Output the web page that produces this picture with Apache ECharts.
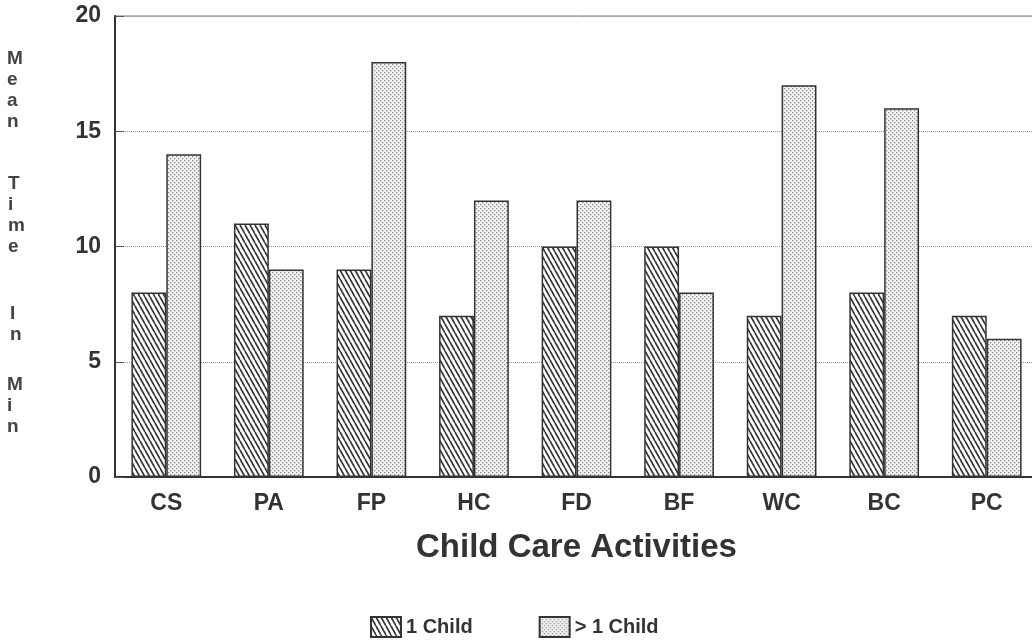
<!DOCTYPE html>
<html>
<head>
<meta charset="utf-8">
<script src="https://cdn.jsdelivr.net/npm/echarts@6/dist/echarts.min.js"></script>
<style>
  html, body { margin: 0; padding: 0; background: #fff; overflow: hidden; }
  /* plot runs slightly past the right edge of the photo, as in the scan */
  #main { width: 1044px; height: 643px; }
</style>
</head>
<body>
<div id="main"></div>
<script type="text/javascript">
// data
var categories = ['CS', 'PA', 'FP', 'HC', 'FD', 'BF', 'WC', 'BC', 'PC'];
var oneChild = [8, 11, 9, 7, 10, 10, 7, 8, 7];
var moreChild = [14, 9, 18, 12, 12, 8, 17, 16, 6];
var yTicks = [0, 5, 10, 15, 20];

var FONT = '"Liberation Sans", Arial, sans-serif';
var INK = '#333';

// hatch pattern: steep "\\\" lines
function hatchCanvas() {
    var c = document.createElement('canvas');
    var w = 5, h = 9;
    c.width = w; c.height = h;
    var ctx = c.getContext('2d');
    ctx.fillStyle = '#fff';
    ctx.fillRect(0, 0, w, h);
    ctx.strokeStyle = '#333';
    ctx.lineWidth = 1.6;
    for (var k = -1; k <= 1; k++) {
        ctx.beginPath();
        ctx.moveTo(k * w, 0);
        ctx.lineTo(k * w + w, h);
        ctx.stroke();
    }
    return c;
}

// light dotted pattern
function dotCanvas() {
    var c = document.createElement('canvas');
    c.width = 4; c.height = 4;
    var ctx = c.getContext('2d');
    ctx.fillStyle = '#f4f4f4';
    ctx.fillRect(0, 0, 4, 4);
    ctx.fillStyle = '#8a8a8a';
    ctx.fillRect(0, 0, 1.3, 1.3);
    ctx.fillRect(2, 2, 1.3, 1.3);
    return c;
}

var myChart = echarts.init(document.getElementById('main'));

var letterStyle = { fontSize: 19, fontWeight: 'bold', fontFamily: FONT, fill: '#444', lineHeight: 21, align: 'center' };

var option = {
    animation: false,
    backgroundColor: '#fff',
    grid: {
        left: 115, top: 16, right: 6, bottom: 166,
        show: true, borderColor: '#777', borderWidth: 1
    },
    legend: {
        bottom: 0,
        left: 365,
        icon: 'rect',
        itemWidth: 30, itemHeight: 20, itemGap: 66,
        textStyle: { fontSize: 20, fontWeight: 'bold', fontFamily: FONT, color: INK },
        data: ['1 Child', '> 1 Child']
    },
    graphic: [
        { type: 'text', left: 7, top: 48, style: Object.assign({ text: 'M\ne\na\nn' }, letterStyle) },
        { type: 'text', left: 8, top: 173, style: Object.assign({ text: 'T\ni\nm\ne' }, letterStyle) },
        { type: 'text', left: 10, top: 303, style: Object.assign({ text: 'I\nn' }, letterStyle) },
        { type: 'text', left: 7, top: 374, style: Object.assign({ text: 'M\ni\nn' }, letterStyle) }
    ],
    xAxis: {
        type: 'category',
        data: categories,
        name: 'Child Care Activities',
        nameLocation: 'middle',
        nameGap: 54,
        nameTextStyle: { fontSize: 33, fontWeight: 'bold', fontFamily: FONT, color: INK },
        axisLine: { lineStyle: { color: INK, width: 2 } },
        axisTick: { show: false },
        axisLabel: { fontSize: 23, fontWeight: 'bold', fontFamily: FONT, color: INK, margin: 15 }
    },
    yAxis: {
        type: 'value',
        min: yTicks[0],
        max: yTicks[yTicks.length - 1],
        interval: 5,
        axisLine: { show: true, lineStyle: { color: INK, width: 2 } },
        axisTick: { show: true, inside: true, length: 9, lineStyle: { color: '#555' } },
        axisLabel: { fontSize: 23, fontWeight: 'bold', fontFamily: FONT, color: INK, margin: 14 },
        splitLine: { show: true, lineStyle: { color: '#999', type: 'dotted', width: 1 } }
    },
    series: [
        {
            name: '1 Child',
            type: 'bar',
            data: oneChild,
            barGap: '0%',
            barCategoryGap: '32%',
            itemStyle: {
                color: { image: hatchCanvas(), repeat: 'repeat' },
                borderColor: INK,
                borderWidth: 1.5
            }
        },
        {
            name: '> 1 Child',
            type: 'bar',
            data: moreChild,
            barGap: '0%',
            barCategoryGap: '32%',
            itemStyle: {
                color: { image: dotCanvas(), repeat: 'repeat' },
                borderColor: INK,
                borderWidth: 1.5
            }
        }
    ]
};

myChart.setOption(option);
</script>
</body>
</html>
